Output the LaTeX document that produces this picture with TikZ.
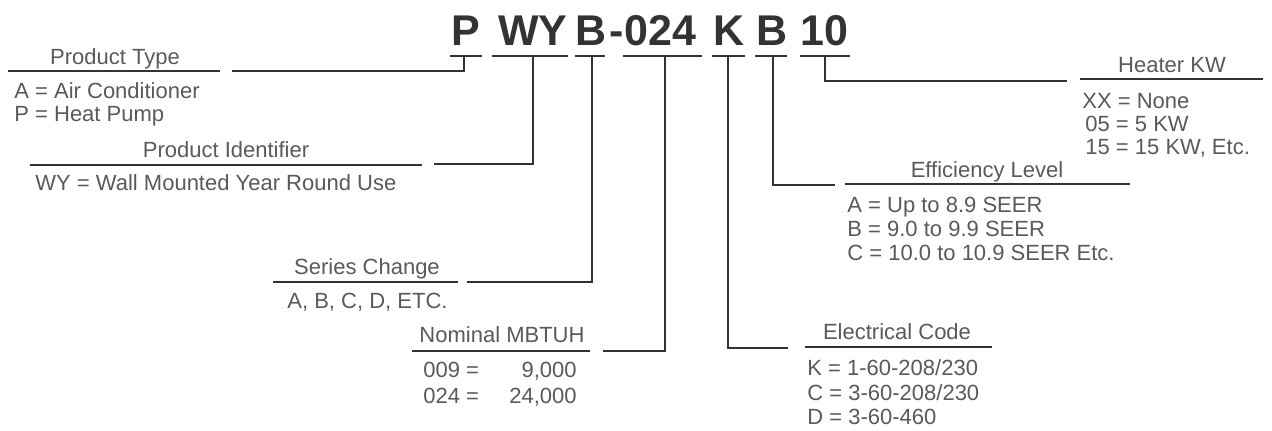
\documentclass[tikz,border=0pt]{standalone}
\usepackage{fontspec}
\setmainfont{Liberation Sans}
\usepackage{xcolor}
\usetikzlibrary{positioning}
\definecolor{ink}{HTML}{333333}
\definecolor{txt}{HTML}{5a5a5a}

\begin{document}
\begin{tikzpicture}[x=0.5pt,y=-0.5pt,
                          code/.style={font=\fontsize{21.5}{24}\selectfont\bfseries, text=ink, anchor=base, inner sep=0pt},
                          head/.style={font=\fontsize{11}{13}\selectfont, text=txt, anchor=base, inner sep=0pt},
                          item/.style={font=\fontsize{11}{13}\selectfont, text=txt, anchor=base west, inner sep=0pt},
                          num/.style={font=\fontsize{11}{13}\selectfont, text=txt, anchor=base east, inner sep=0pt},
                          myrule/.style={line width=1pt, ink},
                          link/.style={line width=1.1pt, ink},
                         ]

\useasboundingbox[fill=white] (0,0) rectangle (1272,430);

% model number
\node[code] (cP) at (466,45) {P};
\node[code] (cWY) at (533,45) {WY};
\node[code] (cB) at (591,45) {B};
\node[code] (cNum) at (653,45) {-024};
\node[code] (cK) at (729,45) {K};
\node[code] (cE) at (772,45) {B};
\node[code] (cH) at (824,45) {10};

\draw[myrule] (450,56)--(482,56);
\draw[myrule] (492,56)--(568,56);
\draw[myrule] (575,56)--(605,56);
\draw[myrule] (623,56)--(702,56);
\draw[myrule] (712,56)--(745,56);
\draw[myrule] (755,56)--(787,56);
\draw[myrule] (800,56)--(850,56);

\coordinate (tP) at (464,56);
\coordinate (tWY) at (533,56);
\coordinate (tB) at (592,56);
\coordinate (tNum) at (665,56);
\coordinate (tK) at (728,56);
\coordinate (tE) at (773,56);
\coordinate (tH) at (825,56);

% Product Type
\node[head] (type) at (115,64) {Product Type};
\draw[myrule] (8,71)--(220,71);
\node[item] (type1) at (14,98) {A = Air Conditioner};
\node[item] (type2) at (14,121) {P = Heat Pump};
\coordinate (eP) at (232,71);
\draw[link] (tP) |- (eP);

% Product Identifier
\node[head] (ident) at (226,157) {Product Identifier};
\draw[myrule] (30,165)--(422,165);
\node[item] (ident1) at (35,190) {WY = Wall Mounted Year Round Use};
\coordinate (eWY) at (434,164);
\draw[link] (tWY) |- (eWY);

% Series Change
\node[head] (series) at (367,274) {Series Change};
\draw[myrule] (273,282)--(458,282);
\node[item] (series1) at (287,308) {A, B, C, D, ETC.};
\coordinate (eB) at (467,282);
\draw[link] (tB) |- (eB);

% Nominal MBTUH
\node[head] (mbtuh) at (502,342) {Nominal MBTUH};
\draw[myrule] (412,351)--(590,351);
\node[item] (mbtuh1) at (423,377) {009 =};
\node[num] (mbtuh1v) at (577,377) {9,000};
\node[item] (mbtuh2) at (423,403) {024 =};
\node[num] (mbtuh2v) at (577,403) {24,000};
\coordinate (eNum) at (603,351);
\draw[link] (tNum) |- (eNum);

% Electrical Code
\node[head] (elec) at (897,339) {Electrical Code};
\draw[myrule] (805,347)--(992,347);
\node[item] (elec1) at (807,375) {K = 1-60-208/230};
\node[item] (elec2) at (807,400) {C = 3-60-208/230};
\node[item] (elec3) at (807,424) {D = 3-60-460};
\coordinate (eK) at (788,348);
\draw[link] (tK) |- (eK);

% Efficiency Level
\node[head] (eff) at (987,177) {Efficiency Level};
\draw[myrule] (845,184)--(1130,184);
\node[item] (eff1) at (847,212) {A = Up to 8.9 SEER};
\node[item] (eff2) at (847,236) {B = 9.0 to 9.9 SEER};
\node[item] (eff3) at (847,260) {C = 10.0 to 10.9 SEER Etc.};
\coordinate (eE) at (835,185);
\draw[link] (tE) |- (eE);

% Heater KW
\node[head] (heat) at (1172,72) {Heater KW};
\draw[myrule] (1080,79)--(1263,79);
\node[item] (heat1) at (1082,108) {XX = None};
\node[item] (heat2) at (1085,131) {05 = 5 KW};
\node[item] (heat3) at (1085,154) {15 = 15 KW, Etc.};
\coordinate (eH) at (1067,81);
\draw[link] (tH) |- (eH);

\end{tikzpicture}
\end{document}
